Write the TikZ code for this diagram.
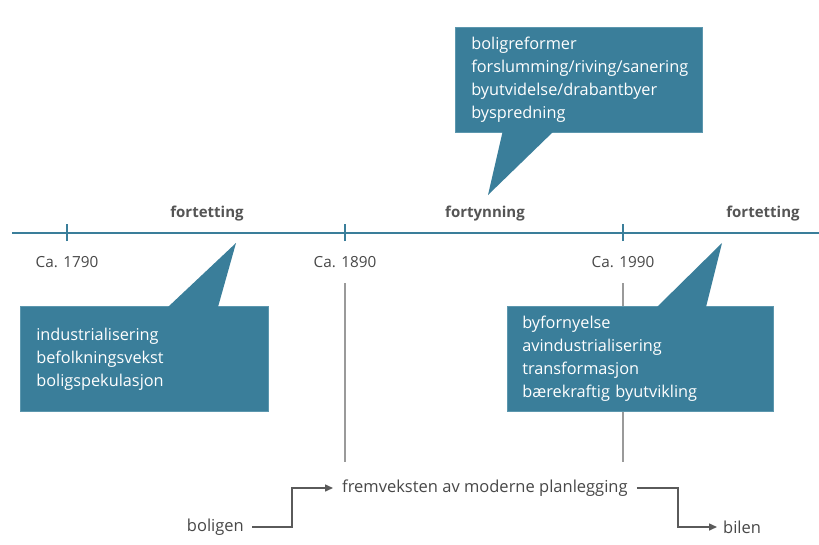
\documentclass[tikz,border=0pt]{standalone}
\usepackage{fontspec}
\setmainfont{Open Sans}[Ligatures=NoCommon]
\usetikzlibrary{arrows.meta}
\definecolor{teal}{HTML}{3A7E9A}
\definecolor{tealedge}{HTML}{5C97AE}
\definecolor{ink}{HTML}{484848}
\definecolor{eraink}{HTML}{555555}
\definecolor{guide}{HTML}{9A9A9A}
\definecolor{flow}{HTML}{5A5A5A}
\begin{document}
\begin{tikzpicture}[x=1pt,y=-1pt,
  callbox/.style={fill=teal, draw=tealedge, line width=0.6pt, text=white,
    anchor=north west, align=left, minimum height=105pt, inner xsep=16pt,
    inner ysep=0pt, font=\fontsize{16.3}{23}\selectfont},
  tail/.style={fill=teal},
  axis/.style={draw=teal, line width=2.6pt},
  tick/.style={draw=teal, line width=2.2pt},
  year/.style={text=ink, font=\fontsize{15.3}{18}\selectfont},
  era/.style={text=eraink, font=\fontsize{15}{18}\selectfont\bfseries},
  guideline/.style={draw=guide, line width=1.4pt},
  flowtext/.style={text=ink, font=\fontsize{16.5}{18}\selectfont, inner sep=0pt},
  flowline/.style={draw=flow, line width=1.5pt, -{Triangle[length=8pt,width=7pt]}}]
  \useasboundingbox (0,0) rectangle (819,544);
  \fill[white] (0,0) rectangle (819,544);

  % timeline axis and period ticks
  \coordinate (axisL) at (12,233);
  \coordinate (axisR) at (819,233);
  \draw[axis] (axisL) -- (axisR);
  \coordinate (t1) at (67,233);
  \coordinate (t2) at (345,233);
  \coordinate (t3) at (623,233);
  \foreach \t in {t1,t2,t3}
    \draw[tick] ([yshift=-8pt]\t) -- ([yshift=9pt]\t);

  \node[year] (y1790) at (67,262) {Ca. 1790};
  \node[year] (y1890) at (345,262) {Ca. 1890};
  \node[year] (y1990) at (623,262) {Ca. 1990};

  \node[era] (era1) at (207,214) {fortetting};
  \node[era] (era2) at (485,214) {fortynning};
  \node[era] (era3) at (763,214) {fortetting};

  % guide lines down to the planning line
  \coordinate (g1a) at (345,283);
  \coordinate (g1b) at (345,462);
  \coordinate (g2a) at (623,283);
  \coordinate (g2b) at (623,462);
  \draw[guideline] (g1a) -- (g1b);
  \draw[guideline] (g2a) -- (g2b);

  % callout above the axis
  \node[callbox, minimum width=247pt, text width=215pt] (boxTop) at (455,27)
    {boligreformer\\forslumming/riving/sanering\\byutvidelse/drabantbyer\\byspredning};
  \fill[tail] (503,130) -- (555,130) -- (488,195) -- cycle;

  % callout for the first period
  \node[callbox, minimum width=248pt, text width=216pt] (boxLeft) at (20,306)
    {industrialisering\\befolkningsvekst\\boligspekulasjon};
  \fill[tail] (168,307) -- (218,307) -- (236,243) -- cycle;

  % callout for the last period
  \node[callbox, minimum width=266pt, text width=236pt, inner xsep=15pt] (boxRight) at (507,306)
    {byfornyelse\\avindustrialisering\\transformasjon\\bærekraftig byutvikling};
  \fill[tail] (657,307) -- (706,307) -- (722,243) -- cycle;

  % bottom flow
  \node[flowtext, anchor=west] (plan) at (342,488) {fremveksten av moderne planlegging};
  \node[flowtext, anchor=east] (bolig) at (244,527) {boligen};
  \node[flowtext, anchor=west] (bil) at (723,527) {bilen};
  \draw[flowline] ([xshift=8pt]bolig.east) -- ++(40,0) |- ([xshift=-9pt]plan.west);
  \draw[flowline] ([xshift=9pt]plan.east) -- (678,488) |- ([xshift=-6pt]bil.west);
\end{tikzpicture}
\end{document}
